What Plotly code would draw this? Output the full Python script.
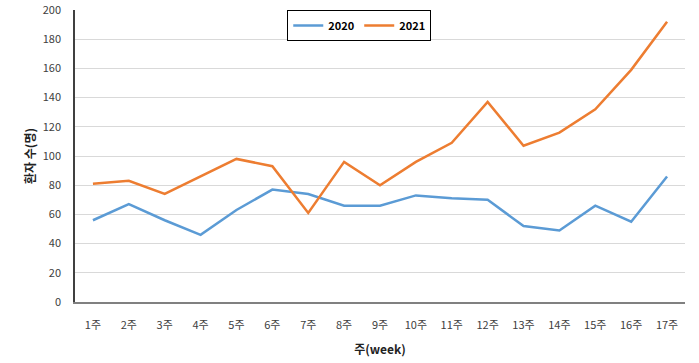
import plotly.graph_objects as go

weeks = [f"{i}주" for i in range(1, 18)]
y2020 = [56, 67, 56, 46, 63, 77, 74, 66, 66, 73, 71, 70, 52, 49, 66, 55, 86]
y2021 = [81, 83, 74, 86, 98, 93, 61, 96, 80, 96, 109, 137, 107, 116, 132, 159, 192]

font_family = "Noto Sans CJK KR, Noto Sans, sans-serif"

fig = go.Figure()
fig.add_trace(go.Scatter(x=weeks, y=y2020, mode="lines", name="<b>2020</b>",
                         line=dict(color="#5B9BD5", width=2.5)))
fig.add_trace(go.Scatter(x=weeks, y=y2021, mode="lines", name="<b>2021</b>",
                         line=dict(color="#ED7D31", width=2.5)))

fig.update_layout(
    width=699, height=363,
    margin=dict(l=75, r=14, t=10, b=61, autoexpand=False),
    paper_bgcolor="white", plot_bgcolor="white",
    font=dict(family=font_family, size=11, color="#404040"),
    showlegend=True,
    legend=dict(orientation="h", x=0.466, xanchor="center", y=1.0, yanchor="top",
                bordercolor="#000000", borderwidth=1, bgcolor="white",
                font=dict(size=11, color="#000000", family=font_family),
                itemwidth=30, tracegroupgap=0),
    xaxis=dict(
        range=[-0.5, 16.5], automargin=False,
        showgrid=False, showline=True, linecolor="#808080", linewidth=1.5,
        ticks="", tickfont=dict(size=11, color="#404040"), ticklabelstandoff=12,
        title=dict(text="<b>주(week)</b>", font=dict(size=12, color="#222222"), standoff=15),
    ),
    yaxis=dict(
        range=[0, 200], dtick=20, showgrid=True, gridcolor="#D9D9D9", gridwidth=1,
        showline=True, linecolor="#404040", linewidth=1.5, zeroline=False, automargin=False,
        ticks="", tickfont=dict(size=11, color="#404040"), ticklabelstandoff=10,
        ticklabeloverflow="allow",
        title=dict(text="<b>환자 수(명)</b>", font=dict(size=12, color="#222222"), standoff=5),
    ),
)

fig.write_html("out.html", config={"displayModeBar": False},
               post_script="document.body.style.margin='0';")
